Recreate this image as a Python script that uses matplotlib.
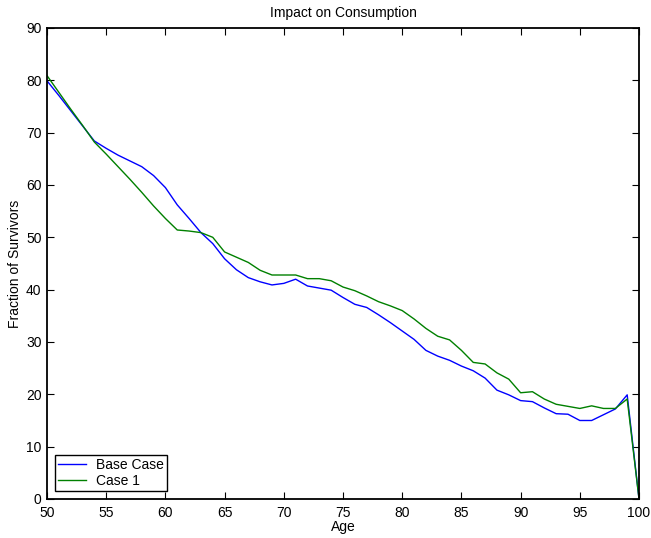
import matplotlib
matplotlib.use("Agg")
import matplotlib.pyplot as plt
import numpy as np

ages = list(range(50, 101))
base_case = [79.9, 77.1, 74.2, 71.3, 68.4, 67.0, 65.7, 64.6, 63.5, 61.8,
             59.5, 56.2, 53.6, 50.9, 48.8, 45.9, 43.8, 42.3, 41.5, 40.9,
             41.2, 42.0, 40.7, 40.3, 39.9, 38.5, 37.2, 36.6, 35.2, 33.7,
             32.1, 30.5, 28.4, 27.3, 26.5, 25.4, 24.5, 23.1, 20.8, 19.9,
             18.8, 18.6, 17.4, 16.3, 16.2, 15.0, 15.0, 16.1, 17.2, 19.9,
             0.0]
case_1 = [80.9, 77.7, 74.5, 71.4, 68.2, 65.9, 63.5, 61.1, 58.6, 56.0,
          53.6, 51.4, 51.2, 50.9, 50.0, 47.2, 46.2, 45.2, 43.7, 42.8,
          42.8, 42.8, 42.1, 42.1, 41.7, 40.5, 39.8, 38.8, 37.7, 36.9,
          36.0, 34.4, 32.6, 31.1, 30.4, 28.4, 26.1, 25.8, 24.1, 22.9,
          20.3, 20.5, 19.1, 18.1, 17.7, 17.3, 17.8, 17.3, 17.3, 19.1,
          0.0]
series_labels = ["Base Case", "Case 1"]
x_ticks = [50, 55, 60, 65, 70, 75, 80, 85, 90, 95, 100]
y_ticks = [0, 10, 20, 30, 40, 50, 60, 70, 80, 90]

plt.rcParams['font.family'] = ['Liberation Sans', 'DejaVu Sans']
plt.rcParams['font.size'] = 10

fig = plt.figure(figsize=(6.51, 5.38), dpi=100)
ax = fig.add_axes([0.0722, 0.0725, 0.9094, 0.8755])

ax.plot(ages, base_case, color=(0, 0, 1), lw=1.0, label=series_labels[0])
ax.plot(ages, case_1, color=(0, 0.5, 0), lw=1.0, label=series_labels[1])

ax.set_xlim(50, 100)
ax.set_ylim(0, 90)
ax.set_xticks(x_ticks)
ax.set_yticks(y_ticks)
ax.tick_params(direction='in', top=True, right=True, length=5, width=0.8,
               labelsize=10)
ax.tick_params(axis='x', pad=5)
ax.tick_params(axis='y', pad=4)
for s in ax.spines.values():
    s.set_linewidth(1.3)

ax.set_title("Impact on Consumption", fontsize=10, pad=8)
ax.set_xlabel("Age", fontsize=10, labelpad=0)
ax.set_ylabel("Fraction of Survivors", fontsize=10, labelpad=3)

leg = ax.legend(loc='lower left', bbox_to_anchor=(0.006, 0.008), fancybox=False,
                edgecolor='black', framealpha=1, handlelength=2.0,
                borderpad=0.25, labelspacing=0.1, handletextpad=0.7,
                borderaxespad=0.3, fontsize=10)
leg.get_frame().set_linewidth(1.0)

fig.savefig("out.png", dpi=100)
